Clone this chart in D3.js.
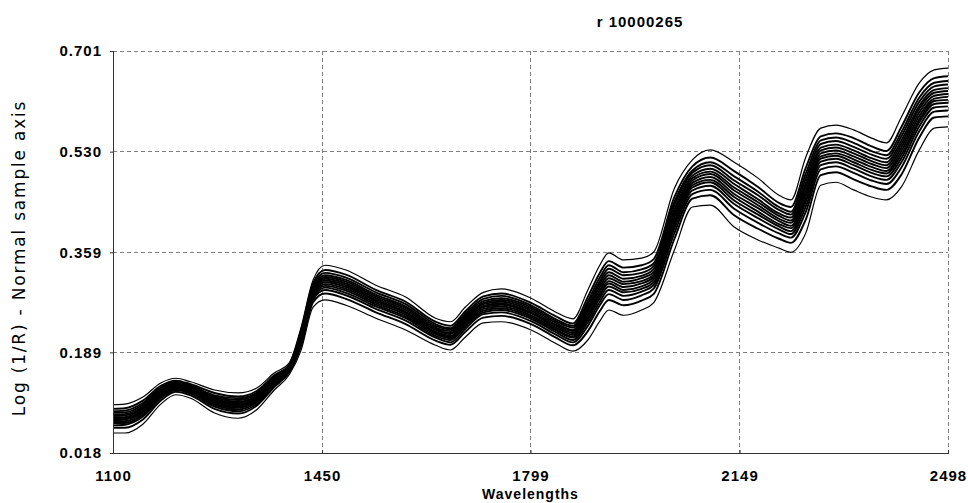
<!DOCTYPE html>
<html>
<head>
<meta charset="utf-8">
<script src="https://cdn.jsdelivr.net/npm/d3@7"></script>
<style>
  body { margin: 0; background: #fff; }
  svg { display: block; }
  .tick-label { font-family: "Liberation Sans", Arial, sans-serif; font-weight: bold; font-size: 15px; letter-spacing: 1px; fill: #000; }
</style>
</head>
<body>
<svg></svg>
<script>
// wavelengths (nm) where the spectra were read
const wavelengths = [1100, 1120, 1150, 1180, 1205, 1230, 1270, 1310, 1340, 1370, 1395, 1415,
  1435, 1455, 1490, 1540, 1590, 1640, 1665, 1690, 1720, 1750, 1800, 1840, 1870, 1895, 1915,
  1930, 1955, 1985, 2005, 2040, 2070, 2100, 2140, 2180, 2215, 2235, 2260, 2285, 2310, 2340,
  2370, 2395, 2420, 2450, 2475, 2498];

// log(1/R) per sample, highest to lowest
const sample01 = [.100,.101,.113,.137,.145,.139,.125,.120,.128,.154,.171,.232,.312,.337,.329,.303,.283,.247,.241,.266,.291,.297,.281,.258,.246,.295,.337,.358,.346,.349,.359,.468,.516,.533,.512,.485,.456,.448,.521,.570,.575,.567,.553,.545,.589,.647,.669,.672];
const sample02 = [.093,.094,.107,.132,.141,.135,.120,.114,.123,.150,.168,.227,.306,.329,.321,.295,.275,.241,.234,.259,.284,.289,.273,.251,.238,.283,.324,.344,.333,.337,.347,.453,.505,.520,.497,.470,.443,.436,.503,.556,.561,.553,.539,.531,.572,.631,.655,.658];
const sample03 = [.089,.090,.103,.129,.139,.133,.116,.111,.120,.148,.167,.223,.302,.324,.316,.291,.271,.237,.230,.255,.280,.285,.269,.246,.234,.276,.316,.337,.325,.330,.340,.445,.498,.512,.488,.462,.436,.428,.493,.549,.554,.545,.531,.524,.563,.622,.647,.650];
const sample04 = [.087,.087,.100,.127,.137,.131,.114,.108,.118,.146,.165,.221,.299,.320,.312,.287,.267,.234,.228,.252,.276,.281,.266,.243,.231,.271,.310,.331,.320,.324,.335,.439,.494,.507,.481,.456,.431,.423,.485,.543,.548,.538,.525,.518,.556,.615,.641,.644];
const sample05 = [.084,.084,.097,.125,.135,.129,.112,.105,.115,.144,.164,.219,.296,.317,.309,.284,.264,.231,.225,.249,.273,.278,.263,.240,.227,.266,.305,.325,.314,.319,.330,.432,.489,.501,.475,.449,.425,.418,.477,.537,.542,.532,.519,.512,.549,.608,.635,.638];
const sample06 = [.081,.082,.095,.123,.134,.128,.110,.103,.114,.143,.163,.217,.294,.314,.306,.281,.261,.229,.222,.246,.271,.275,.260,.237,.225,.262,.300,.320,.309,.315,.325,.427,.485,.496,.469,.444,.421,.413,.471,.532,.537,.527,.514,.507,.543,.603,.630,.633];
const sample07 = [.079,.079,.093,.121,.133,.127,.108,.101,.112,.141,.162,.215,.292,.311,.303,.278,.258,.227,.220,.244,.268,.272,.257,.235,.222,.258,.295,.315,.305,.310,.321,.422,.481,.492,.464,.439,.416,.409,.464,.527,.532,.522,.509,.502,.537,.597,.625,.628];
const sample08 = [.076,.077,.090,.119,.131,.125,.106,.099,.110,.140,.161,.213,.289,.308,.300,.276,.256,.224,.217,.241,.266,.270,.255,.232,.219,.253,.290,.310,.300,.306,.317,.417,.477,.487,.458,.434,.412,.404,.458,.522,.527,.517,.504,.497,.531,.591,.620,.623];
const sample09 = [.074,.075,.088,.118,.130,.124,.104,.097,.108,.138,.160,.211,.287,.305,.297,.273,.253,.222,.215,.238,.263,.267,.252,.229,.216,.249,.286,.306,.295,.301,.313,.411,.473,.482,.453,.428,.407,.400,.451,.518,.523,.512,.499,.493,.525,.585,.616,.618];
const sample10 = [.072,.072,.086,.116,.128,.122,.102,.095,.106,.137,.159,.209,.285,.302,.294,.270,.250,.220,.213,.236,.260,.264,.249,.227,.214,.245,.281,.301,.291,.297,.308,.406,.469,.478,.447,.423,.403,.395,.445,.513,.518,.507,.494,.488,.519,.580,.611,.613];
const sample11 = [.069,.069,.083,.114,.127,.121,.100,.092,.104,.135,.158,.207,.282,.299,.290,.267,.247,.217,.210,.233,.257,.261,.246,.224,.210,.240,.275,.295,.285,.292,.303,.400,.464,.472,.441,.417,.398,.390,.437,.507,.512,.501,.488,.482,.512,.573,.605,.607];
const sample12 = [.065,.066,.080,.111,.125,.119,.097,.089,.101,.133,.157,.204,.279,.295,.286,.263,.243,.214,.206,.229,.254,.257,.242,.220,.206,.234,.269,.288,.278,.286,.297,.392,.458,.465,.433,.409,.391,.384,.428,.500,.505,.494,.481,.475,.503,.565,.598,.600];
const sample13 = [.061,.061,.075,.107,.122,.116,.093,.085,.098,.130,.155,.200,.274,.289,.280,.257,.237,.209,.202,.224,.248,.251,.237,.215,.201,.225,.259,.278,.269,.277,.288,.382,.450,.456,.422,.399,.382,.375,.415,.490,.495,.483,.471,.465,.491,.554,.588,.590];
const sample14 = [.052,.052,.067,.101,.117,.111,.086,.077,.091,.125,.151,.193,.266,.278,.269,.247,.227,.201,.193,.215,.239,.241,.227,.205,.191,.210,.242,.261,.252,.261,.273,.363,.436,.439,.402,.380,.366,.359,.392,.473,.478,.465,.453,.448,.470,.533,.570,.572];

const xTicks = [1100, 1450, 1799, 2149, 2498];
const yTicks = [0.018, 0.189, 0.359, 0.530, 0.701];

const samples = [sample01, sample02, sample03, sample04, sample05, sample06, sample07,
  sample08, sample09, sample10, sample11, sample12, sample13, sample14];

const margin = { top: 51, right: 20, bottom: 50, left: 113 };
const width = 968 - margin.left - margin.right;
const height = 503 - margin.top - margin.bottom;

const svg = d3.select("svg")
  .attr("width", width + margin.left + margin.right)
  .attr("height", height + margin.top + margin.bottom);

const g = svg.append("g")
  .attr("transform", `translate(${margin.left},${margin.top})`);

const x = d3.scaleLinear().domain([1100, 2498]).range([0, width]);
const y = d3.scaleLinear().domain([0.018, 0.701]).range([height, 0]);

// dashed grid
const grid = g.append("g").attr("class", "grid");

grid.selectAll("line.v")
  .data(xTicks.slice(1))
  .join("line")
  .attr("class", "v")
  .attr("x1", d => x(d)).attr("x2", d => x(d))
  .attr("y1", 0).attr("y2", height);

grid.selectAll("line.h")
  .data(yTicks.slice(1))
  .join("line")
  .attr("class", "h")
  .attr("x1", 0).attr("x2", width)
  .attr("y1", d => y(d)).attr("y2", d => y(d));

grid.selectAll("line")
  .attr("stroke", "#808080")
  .attr("stroke-width", 1)
  .attr("stroke-dasharray", "4,3")
  .attr("shape-rendering", "crispEdges");

// spectra
const line = d3.line()
  .x((d, i) => x(wavelengths[i]))
  .y(d => y(d))
  .curve(d3.curveMonotoneX);

g.append("g")
  .selectAll("path")
  .data(samples)
  .join("path")
  .attr("fill", "none")
  .attr("stroke", "#000")
  .attr("stroke-width", (d, i) => (i === 0 || i === samples.length - 1) ? 1.2 : 1.9)
  .attr("d", line);

// axes
const xAxis = g.append("g")
  .attr("transform", `translate(0,${height})`)
  .call(d3.axisBottom(x).tickValues(xTicks).tickSize(-3).tickPadding(17).tickFormat(d3.format("d")));

const yAxis = g.append("g")
  .call(d3.axisLeft(y).tickValues(yTicks).tickSize(3).tickPadding(8).tickFormat(d3.format(".3f")));

[xAxis, yAxis].forEach(a => {
  a.select(".domain").attr("stroke", "#333").attr("stroke-width", 1.5).attr("shape-rendering", "crispEdges");
  a.selectAll(".tick line").attr("stroke", "#333");
  a.selectAll(".tick text").attr("class", "tick-label");
});

// labels
svg.append("text")
  .attr("class", "tick-label")
  .attr("x", 640)
  .attr("y", 27)
  .attr("text-anchor", "middle")
  .text("r 10000265");

svg.append("text")
  .attr("class", "tick-label")
  .attr("x", margin.left + x(1799))
  .attr("y", 499)
  .attr("text-anchor", "middle")
  .style("font-size", "14px")
  .text("Wavelengths");

svg.append("text")
  .attr("transform", "translate(25,258) rotate(-90)")
  .attr("text-anchor", "middle")
  .style("font-family", "'DejaVu Sans', sans-serif")
  .style("font-size", "17px")
  .style("letter-spacing", "1.8px")
  .text("Log (1/R) - Normal sample axis");
</script>
</body>
</html>
